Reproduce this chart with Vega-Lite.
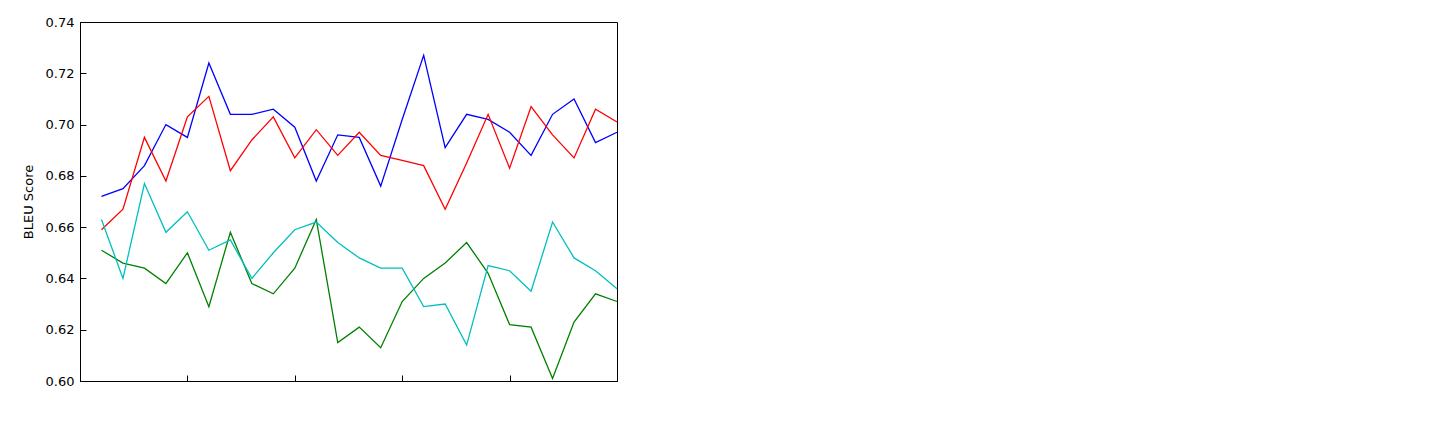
{
  "$schema": "https://vega.github.io/schema/vega-lite/v6.json",
  "width": 537,
  "height": 359,
  "padding": {"left": 80, "top": 22, "right": 5, "bottom": 5},
  "autosize": {"type": "none"},
  "config": {
    "font": "DejaVu Sans",
    "view": {"stroke": "black", "strokeWidth": 1},
    "axis": {"grid": false, "domainColor": "black", "tickColor": "black", "labelColor": "black", "titleColor": "black", "labelFontSize": 13, "titleFontSize": 13, "titleFontWeight": "normal", "tickSize": -6, "labelPadding": 12}
  },
  "data": {
    "values": [
      {"m":"B","e":20,"b":0.672},{"m":"B","e":40,"b":0.675},{"m":"B","e":60,"b":0.684},{"m":"B","e":80,"b":0.700},{"m":"B","e":100,"b":0.695},
      {"m":"B","e":120,"b":0.724},{"m":"B","e":140,"b":0.704},{"m":"B","e":160,"b":0.704},{"m":"B","e":180,"b":0.706},{"m":"B","e":200,"b":0.699},
      {"m":"B","e":220,"b":0.678},{"m":"B","e":240,"b":0.696},{"m":"B","e":260,"b":0.695},{"m":"B","e":280,"b":0.676},{"m":"B","e":300,"b":0.702},
      {"m":"B","e":320,"b":0.727},{"m":"B","e":340,"b":0.691},{"m":"B","e":360,"b":0.704},{"m":"B","e":380,"b":0.702},{"m":"B","e":400,"b":0.697},
      {"m":"B","e":420,"b":0.688},{"m":"B","e":440,"b":0.704},{"m":"B","e":460,"b":0.710},{"m":"B","e":480,"b":0.693},{"m":"B","e":500,"b":0.697},
      {"m":"G","e":20,"b":0.651},{"m":"G","e":40,"b":0.646},{"m":"G","e":60,"b":0.644},{"m":"G","e":80,"b":0.638},{"m":"G","e":100,"b":0.650},
      {"m":"G","e":120,"b":0.629},{"m":"G","e":140,"b":0.658},{"m":"G","e":160,"b":0.638},{"m":"G","e":180,"b":0.634},{"m":"G","e":200,"b":0.644},
      {"m":"G","e":220,"b":0.663},{"m":"G","e":240,"b":0.615},{"m":"G","e":260,"b":0.621},{"m":"G","e":280,"b":0.613},{"m":"G","e":300,"b":0.631},
      {"m":"G","e":320,"b":0.640},{"m":"G","e":340,"b":0.646},{"m":"G","e":360,"b":0.654},{"m":"G","e":380,"b":0.642},{"m":"G","e":400,"b":0.622},
      {"m":"G","e":420,"b":0.621},{"m":"G","e":440,"b":0.601},{"m":"G","e":460,"b":0.623},{"m":"G","e":480,"b":0.634},{"m":"G","e":500,"b":0.631},
      {"m":"R","e":20,"b":0.659},{"m":"R","e":40,"b":0.667},{"m":"R","e":60,"b":0.695},{"m":"R","e":80,"b":0.678},{"m":"R","e":100,"b":0.703},
      {"m":"R","e":120,"b":0.711},{"m":"R","e":140,"b":0.682},{"m":"R","e":160,"b":0.694},{"m":"R","e":180,"b":0.703},{"m":"R","e":200,"b":0.687},
      {"m":"R","e":220,"b":0.698},{"m":"R","e":240,"b":0.688},{"m":"R","e":260,"b":0.697},{"m":"R","e":280,"b":0.688},{"m":"R","e":300,"b":0.686},
      {"m":"R","e":320,"b":0.684},{"m":"R","e":340,"b":0.667},{"m":"R","e":360,"b":0.685},{"m":"R","e":380,"b":0.704},{"m":"R","e":400,"b":0.683},
      {"m":"R","e":420,"b":0.707},{"m":"R","e":440,"b":0.696},{"m":"R","e":460,"b":0.687},{"m":"R","e":480,"b":0.706},{"m":"R","e":500,"b":0.701},
      {"m":"C","e":20,"b":0.663},{"m":"C","e":40,"b":0.640},{"m":"C","e":60,"b":0.677},{"m":"C","e":80,"b":0.658},{"m":"C","e":100,"b":0.666},
      {"m":"C","e":120,"b":0.651},{"m":"C","e":140,"b":0.655},{"m":"C","e":160,"b":0.640},{"m":"C","e":180,"b":0.650},{"m":"C","e":200,"b":0.659},
      {"m":"C","e":220,"b":0.662},{"m":"C","e":240,"b":0.654},{"m":"C","e":260,"b":0.648},{"m":"C","e":280,"b":0.644},{"m":"C","e":300,"b":0.644},
      {"m":"C","e":320,"b":0.629},{"m":"C","e":340,"b":0.630},{"m":"C","e":360,"b":0.614},{"m":"C","e":380,"b":0.645},{"m":"C","e":400,"b":0.643},
      {"m":"C","e":420,"b":0.635},{"m":"C","e":440,"b":0.662},{"m":"C","e":460,"b":0.648},{"m":"C","e":480,"b":0.643},{"m":"C","e":500,"b":0.636}
    ]
  },
  "mark": {"type": "line", "strokeWidth": 1.3},
  "encoding": {
    "x": {"field": "e", "type": "quantitative", "title": "Epoch", "scale": {"domain": [0, 500], "nice": false}, "axis": {"values": [0,100,200,300,400,500], "titlePadding": 6}},
    "y": {"field": "b", "type": "quantitative", "title": "BLEU Score", "scale": {"domain": [0.6, 0.74], "nice": false, "zero": false}, "axis": {"values": [0.6,0.62,0.64,0.66,0.68,0.7,0.72,0.74], "format": ".2f", "titlePadding": 10}},
    "color": {
      "field": "m", "type": "nominal",
      "scale": {"domain": ["B","G","R","C"], "range": ["#0000ff", "#008000", "#ff0000", "#00bfbf"]},
      "legend": {
        "title": null, "orient": "none", "legendX": 563, "legendY": 0,
        "strokeColor": "black", "padding": 10, "fillColor": "white",
        "labelFontSize": 17, "labelColor": "black", "labelLimit": 800,
        "labelExpr": "{'B':'model_yb_20_2_256_50_0.001_True_True_gru_None_False_True_0.99_None','G':'model_3_20_2_256_50_0.001_True_True_gru_None_False_False_0.99_None','R':'model_3_20_2_256_50_0.001_True_True_gru_None_False_True_0.99_None','C':'model_3_20_2_128_50_0.001_True_True_gru_None_True_False_0.99_None'}[datum.value]",
        "symbolType": "stroke", "symbolSize": 900, "symbolStrokeWidth": 1.3,
        "rowPadding": 12, "labelOffset": 14
      }
    }
  }
}
